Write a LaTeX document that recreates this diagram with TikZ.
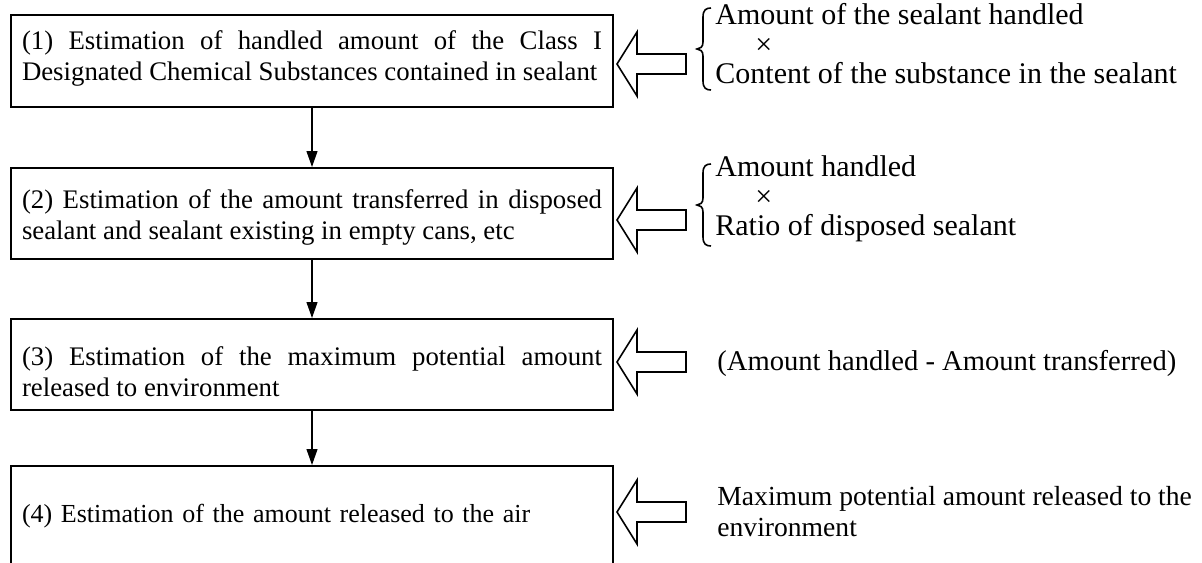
\documentclass[tikz,border=0pt]{standalone}
\usepackage{fontspec}
\setmainfont{Liberation Serif}
\usetikzlibrary{arrows.meta,calc}
\newcommand{\hollowarrow}[1]{%
  \draw[hollow] (#1) -- ++(20,-32) -- ++(0,22) -- ++(49,0) -- ++(0,20) -- ++(-49,0) -- ++(0,22) -- cycle;}
\newcommand{\curlybrace}[3]{% x, ytop, ybottom
  \pgfmathsetmacro{\bmid}{(#2+#3)/2}%
  \draw[brace] (#1+14,#2) .. controls (#1+9,#2) and (#1+6,#2+2) .. (#1+6,#2+9)
    -- (#1+6,\bmid-7) .. controls (#1+6,\bmid-2) and (#1+3,\bmid) .. (#1,\bmid)
    .. controls (#1+3,\bmid) and (#1+6,\bmid+2) .. (#1+6,\bmid+7)
    -- (#1+6,#3-9) .. controls (#1+6,#3-2) and (#1+9,#3) .. (#1+14,#3);}
\begin{document}
\begin{tikzpicture}[x=0.5pt,y=-0.5pt,
  stepbox/.style={draw,line width=1pt,minimum width=301pt,anchor=north west,inner sep=0pt},
  steptext/.style={text width=290pt,inner sep=0pt,align=justify,
    font=\fontsize{13.4pt}{15.5pt}\selectfont},
  flow/.style={-{Triangle[length=8pt,width=5.5pt]},line width=0.6pt},
  hollow/.style={line width=0.8pt,line join=miter},
  note/.style={anchor=west,align=left,inner sep=0pt,
    font=\fontsize{15pt}{14.75pt}\selectfont},
  brace/.style={line width=0.8pt}]
\clip (0,0) rectangle (1202,562);
\node[stepbox,minimum height=46pt] (b1) at (10,14) {};
\node[stepbox,minimum height=45.5pt] (b2) at (10,167) {};
\node[stepbox,minimum height=45.5pt] (b3) at (10,318) {};
\node[stepbox,minimum height=50pt] (b4) at (10,465) {};
\node[steptext] (l1) at ($(b1.center)+(0,-3)$)
  {\hyphenpenalty=10000 (1) Estimation of handled amount of the Class I\linebreak
   Designated Chemical Substances contained in sealant};
\node[steptext] (l2) at ($(b2.center)+(0,4)$)
  {\hyphenpenalty=10000 (2) Estimation of the amount transferred in disposed\linebreak
   sealant and sealant existing in empty cans, etc};
\node[steptext] (l3) at ($(b3.center)+(0,7)$)
  {\hyphenpenalty=10000 (3) Estimation of the maximum potential amount\linebreak
   released to environment};
\node[steptext,align=left,font=\fontsize{13pt}{15.5pt}\selectfont] (l4) at (b4.center)
  {(4) Estimation of the amount released to the air};
\draw[flow] (b1.south) -- (b2.north);
\draw[flow] (b2.south) -- (b3.north);
\draw[flow] (b3.south) -- (b4.north);
\node[note] (n1) at (715,44)
  {Amount of the sealant handled\\\hspace*{20pt}×\\Content of the substance in the sealant};
\node[note] (n2) at (715,199)
  {Amount handled\\\hspace*{20pt}×\\Ratio of disposed sealant};
\node[note,font=\fontsize{14.3pt}{15pt}\selectfont] (n3) at (717,363)
  {(Amount handled - Amount transferred)};
\node[note,font=\fontsize{13.8pt}{15.5pt}\selectfont] (n4) at (717,512)
  {Maximum potential amount released to the\\environment};
\coordinate (t1) at (617,64);
\coordinate (t2) at (617,220);
\coordinate (t3) at (617,362);
\coordinate (t4) at (617,512);
\hollowarrow{t1}
\hollowarrow{t2}
\hollowarrow{t3}
\hollowarrow{t4}
\curlybrace{697}{8}{90}
\curlybrace{697}{164}{246}
\end{tikzpicture}
\end{document}
